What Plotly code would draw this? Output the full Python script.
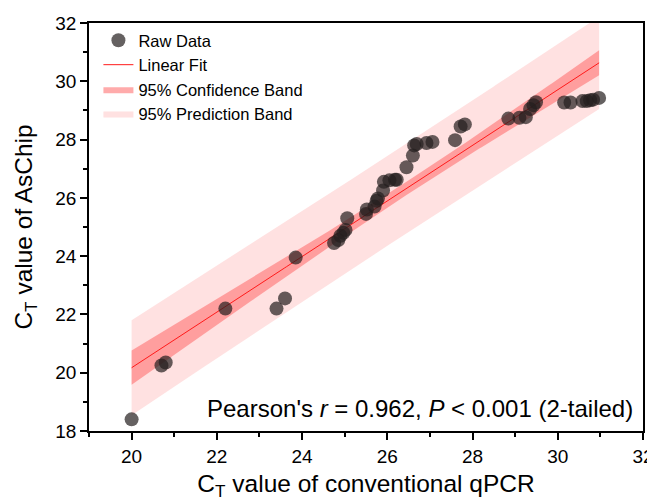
import numpy as np
import plotly.graph_objects as go

# Raw data
qpcr_ct = [20.0, 20.7, 20.8, 22.2, 23.4, 23.6, 23.85, 24.75, 24.85, 24.9, 24.97, 25.02,
           25.06, 25.5, 25.52, 25.7, 25.75, 25.78, 25.9, 25.92, 26.05, 26.18, 26.22,
           26.45, 26.6, 26.63, 26.69, 26.92, 27.06, 27.59, 27.72, 27.82, 28.84, 29.1,
           29.25, 29.35, 29.43, 29.49, 30.15, 30.3, 30.58, 30.68, 30.76, 30.83, 30.97]
aschip_ct = [18.4, 20.25, 20.35, 22.2, 22.2, 22.55, 23.95, 24.45, 24.55, 24.7, 24.8, 24.9,
             25.3, 25.45, 25.6, 25.7, 25.9, 25.98, 26.25, 26.55, 26.6, 26.62, 26.62,
             27.05, 27.45, 27.8, 27.85, 27.88, 27.92, 27.98, 28.45, 28.52, 28.72, 28.75,
             28.77, 29.05, 29.18, 29.28, 29.27, 29.27, 29.32, 29.32, 29.35, 29.37, 29.43]
x_ticks = [20, 22, 24, 26, 28, 30, 32]
y_ticks = [18, 20, 22, 24, 26, 28, 30, 32]
stat_text = "Pearson's <i>r</i> = 0.962, <i>P</i> &lt; 0.001 (2-tailed)"

x = np.array(qpcr_ct)
y = np.array(aschip_ct)
n = len(x)
b, a = np.polyfit(x, y, 1)
resid = y - (a + b * x)
s = np.sqrt(np.sum(resid ** 2) / (n - 2))
t_val = 2.017
xm = x.mean()
sxx = np.sum((x - xm) ** 2)
xf = np.linspace(x.min(), x.max(), 200)
yf = a + b * xf
conf = t_val * s * np.sqrt(1 / n + (xf - xm) ** 2 / sxx)
pred = t_val * s * np.sqrt(1 + 1 / n + (xf - xm) ** 2 / sxx)

FONT = "Arial, Liberation Sans, sans-serif"
fig = go.Figure()

fig.add_trace(go.Scatter(
    x=np.concatenate([xf, xf[::-1]]), y=np.concatenate([yf + pred, (yf - pred)[::-1]]),
    fill="toself", fillcolor="rgba(255,205,205,0.6)", line=dict(width=0),
    mode="lines", name="95% Prediction Band", legendrank=4, hoverinfo="skip"))
fig.add_trace(go.Scatter(
    x=np.concatenate([xf, xf[::-1]]), y=np.concatenate([yf + conf, (yf - conf)[::-1]]),
    fill="toself", fillcolor="rgba(255,110,110,0.58)", line=dict(width=0),
    mode="lines", name="95% Confidence Band", legendrank=3, hoverinfo="skip"))
fig.add_trace(go.Scatter(
    x=xf, y=yf, mode="lines", line=dict(color="#ff1a1a", width=1),
    name="Linear Fit", legendrank=2))
fig.add_trace(go.Scatter(
    x=x, y=y, mode="markers", name="Raw Data", legendrank=1,
    marker=dict(color="rgba(35,30,30,0.7)", size=14, line=dict(width=0))))

fig.add_annotation(text=stat_text, xref="paper", yref="paper", x=0.986, y=0.056,
                   xanchor="right", yanchor="middle", showarrow=False,
                   font=dict(family=FONT, size=24, color="black"))

axis_common = dict(showline=True, linecolor="black", linewidth=1.5, mirror=True,
                   ticks="outside", ticklen=7, tickwidth=1.5, tickcolor="black",
                   showgrid=False, zeroline=False, automargin=False,
                   tickfont=dict(family=FONT, size=19, color="black"),
                   minor=dict(ticks="outside", ticklen=4, tickwidth=1.5,
                              tickcolor="black", dtick=1))
fig.update_xaxes(range=[19, 32], tickvals=x_ticks,
                 title=dict(text="C<sub>T</sub> value of conventional qPCR",
                            font=dict(family=FONT, size=24.5, color="black"), standoff=22),
                 **axis_common)
fig.update_yaxes(range=[18, 32], tickvals=y_ticks,
                 title=dict(text="C<sub>T</sub> value of AsChip",
                            font=dict(family=FONT, size=24.5, color="black"), standoff=16),
                 **axis_common)

# the page body has an 8px margin, so the figure is sized to fit the 655x501 window
fig.update_layout(
    width=647, height=493, plot_bgcolor="white", paper_bgcolor="white",
    margin=dict(l=81, r=12, t=15, b=70),
    legend=dict(x=0.017, y=1.0, xanchor="left", yanchor="top",
                bgcolor="rgba(0,0,0,0)", font=dict(family=FONT, size=16.5, color="black"),
                tracegroupgap=0, itemwidth=30),
    showlegend=True,
)

fig.write_html("out.html")
